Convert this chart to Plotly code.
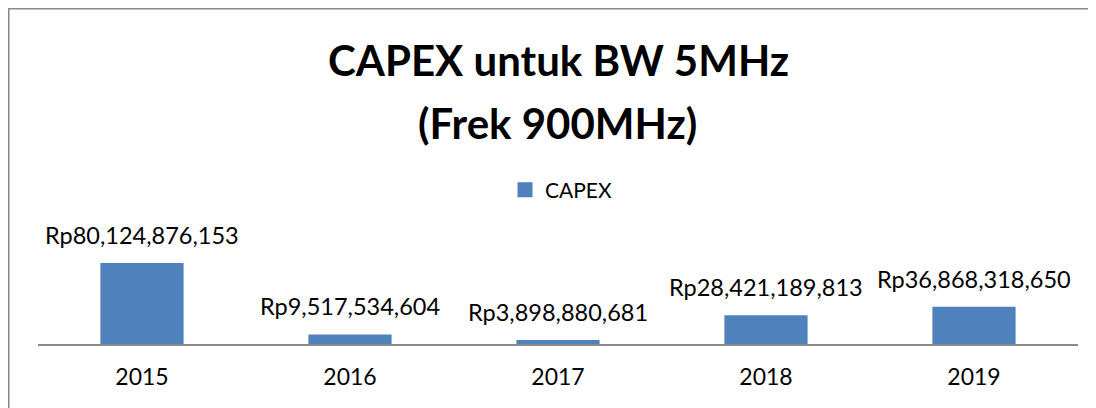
import plotly.graph_objects as go

# ---- data ----
years = ["2015", "2016", "2017", "2018", "2019"]
capex = [80124876153, 9517534604, 3898880681, 28421189813, 36868318650]
series_name = "CAPEX"
title_line1 = "CAPEX untuk BW 5MHz"
title_line2 = "(Frek 900MHz)"

W, H = 1096, 408
OFF = 8  # page body margin
FONT = "Lato"
BAR_COLOR = "#4f81bd"

def px_x(p):
    return (p - OFF) / W

def px_y(p):
    return 1 - (p - OFF) / H

fig = go.Figure()
fig.add_trace(go.Bar(
    x=years, y=capex, marker=dict(color=BAR_COLOR, line=dict(width=0)),
    width=0.4, showlegend=False, hoverinfo="skip",
))
# legend entry (no visible point)
fig.add_trace(go.Scatter(
    x=[years[0]], y=[None], mode="markers", name=series_name,
    marker=dict(symbol="square", size=15, color=BAR_COLOR),
))

annotations = []
for i, (yr, v) in enumerate(zip(years, capex)):
    annotations.append(dict(
        x=i, y=v, xref="x", yref="y", text="Rp{:,}".format(v),
        showarrow=False, yanchor="bottom", yshift=12,
        font=dict(family=FONT, size=23.5, color="black"),
    ))
annotations.append(dict(
    x=px_x(558), y=px_y(60), xref="paper", yref="paper", text="<b>%s</b>" % title_line1,
    showarrow=False, xanchor="center", yanchor="middle",
    font=dict(family=FONT, size=42, color="black"),
))
annotations.append(dict(
    x=px_x(557), y=px_y(123), xref="paper", yref="paper", text="<b>%s</b>" % title_line2,
    showarrow=False, xanchor="center", yanchor="middle",
    font=dict(family=FONT, size=42, color="black"),
))

fig.update_layout(
    width=W, height=H, autosize=False,
    margin=dict(l=0, r=0, t=0, b=0, pad=0),
    paper_bgcolor="white", plot_bgcolor="white",
    annotations=annotations,
    showlegend=True,
    legend=dict(
        orientation="h", x=px_x(505), y=px_y(190), xanchor="left", yanchor="middle",
        font=dict(family=FONT, size=21, color="black"), bgcolor="rgba(0,0,0,0)",
    ),
    xaxis=dict(
        domain=[px_x(38), px_x(1078)], type="category",
        categoryorder="array", categoryarray=years, range=[-0.5, 4.5],
        showline=True, linecolor="#898989", linewidth=2,
        ticks="", showgrid=False, zeroline=False,
        tickfont=dict(family=FONT, size=23, color="black"),
        ticklabelstandoff=11,
        fixedrange=True, automargin=False,
    ),
    yaxis=dict(
        domain=[px_y(344), px_y(243)], range=[0, 100e9],
        visible=False, showgrid=False, zeroline=False, fixedrange=True,
        automargin=False,
    ),
    shapes=[dict(
        type="rect", xref="paper", yref="paper",
        x0=px_x(8.5), x1=1.05, y0=-0.05, y1=px_y(8.5),
        line=dict(color="#898989", width=2), fillcolor="rgba(0,0,0,0)", layer="above",
    )],
)

fig.write_html("out.html")
